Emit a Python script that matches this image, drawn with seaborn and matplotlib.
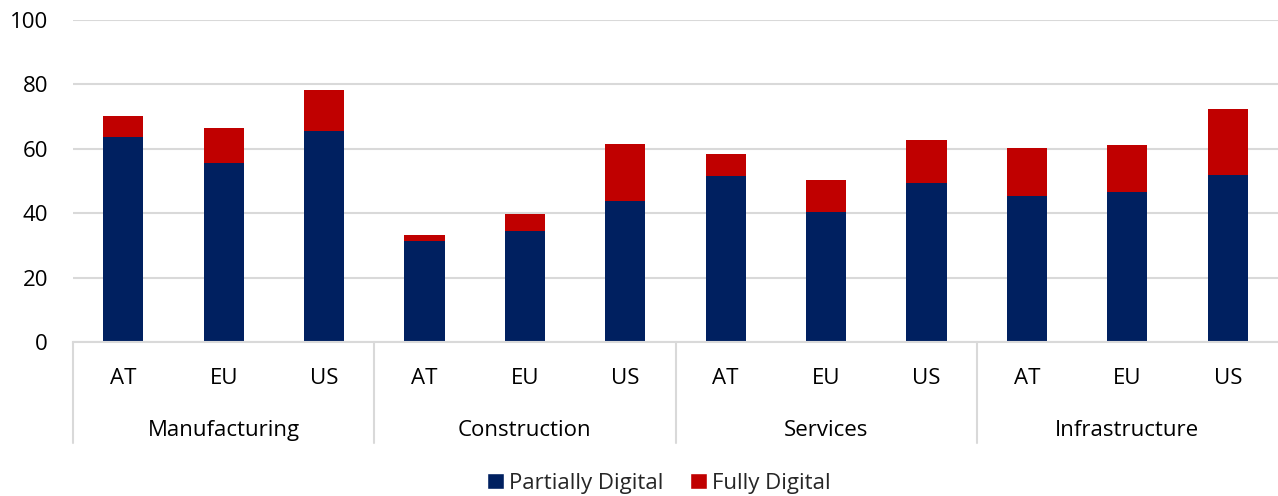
import matplotlib
matplotlib.use("Agg")
import matplotlib.pyplot as plt
import matplotlib.transforms as mtransforms
from matplotlib.patches import Patch
import pandas as pd
import seaborn as sns

# values (percent of firms)
sectors = ["Manufacturing", "Construction", "Services", "Infrastructure"]
regions = ["AT", "EU", "US"]
partially_digital = [63.6, 55.5, 65.6, 31.5, 34.4, 43.9, 51.5, 40.5, 49.3, 45.4, 46.6, 51.9]
fully_digital = [6.7, 10.9, 12.6, 1.8, 5.4, 17.5, 7.0, 9.7, 13.3, 14.8, 14.7, 20.5]

navy = "#002060"
red = "#C00000"
grid_grey = "#D9D9D9"

rows = []
i = 0
for s in sectors:
    for r in regions:
        rows.append({"sector": s, "region": r, "key": s + "|" + r,
                     "partial": partially_digital[i],
                     "total": partially_digital[i] + fully_digital[i]})
        i += 1
df = pd.DataFrame(rows)
order = list(df["key"])

sns.set_theme(style="white")
plt.rcParams["font.family"] = ["Open Sans", "DejaVu Sans"]

fig = plt.figure(figsize=(12.78, 4.96), dpi=100)
ax = fig.add_axes([73 / 1278, 1 - 342 / 496, 1 - 73 / 1278, (342 - 20) / 496])

# total first (red), partial on top of it (navy) -> stacked look
sns.barplot(data=df, x="key", y="total", order=order, color=red, width=0.4,
            saturation=1, ax=ax, linewidth=0)
sns.barplot(data=df, x="key", y="partial", order=order, color=navy, width=0.4,
            saturation=1, ax=ax, linewidth=0)

ax.set_xlim(-0.5, len(order) - 0.5)
ax.set_ylim(0, 100)
ax.set_yticks([0, 20, 40, 60, 80, 100])
ax.yaxis.grid(True, color=grid_grey, linewidth=1.5)
ax.set_axisbelow(True)
for sp in ["top", "right", "left"]:
    ax.spines[sp].set_visible(False)
ax.spines["bottom"].set_color(grid_grey)
ax.spines["bottom"].set_linewidth(1.5)

ax.set_xlabel("")
ax.set_ylabel("")
ax.set_xticks(range(len(order)))
ax.set_xticklabels(list(df["region"]))
ax.tick_params(axis="x", length=0, pad=19, labelsize=16, colors="#000000")
ax.tick_params(axis="y", length=0, pad=18, labelsize=16, colors="#000000")

# group separators and sector labels below the axis
trans = mtransforms.blended_transform_factory(ax.transData, ax.transAxes)
for k in range(len(sectors)):
    xpos = k * len(regions) - 0.5
    ax.plot([xpos, xpos], [0, -0.315], transform=trans, color=grid_grey,
            linewidth=1.5, clip_on=False)
for k, s in enumerate(sectors):
    ax.text(k * len(regions) + 1, -0.276, s, transform=trans, ha="center",
            va="center", fontsize=16, color="#000000")

handles = [Patch(facecolor=navy, label="Partially Digital"),
           Patch(facecolor=red, label="Fully Digital")]
fig.legend(handles=handles, loc="center", bbox_to_anchor=(659 / 1278, 1 - 483 / 496),
           ncol=2, frameon=False, fontsize=16, handlelength=0.75,
           handleheight=0.75, handletextpad=0.25, columnspacing=1.2)

fig.savefig("out.png", dpi=100)
